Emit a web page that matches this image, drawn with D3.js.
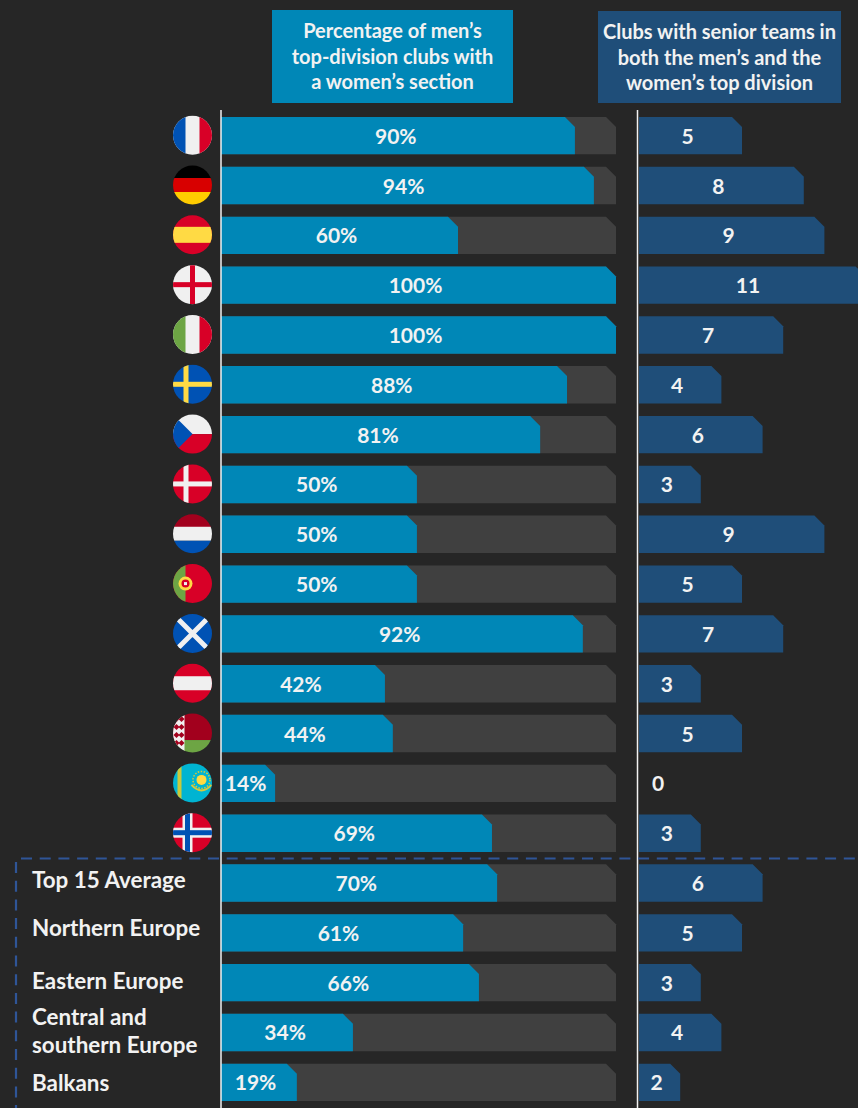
<!DOCTYPE html>
<html>
<head>
<meta charset="utf-8">
<script src="https://cdn.jsdelivr.net/npm/d3@7"></script>
<style>
  html, body { margin: 0; padding: 0; background: #262626; overflow: hidden; }
  text { font-family: Lato, sans-serif; font-weight: 700; fill: #f2f2f2; }
</style>
</head>
<body>
<div id="chart"></div>
<script>
// rows top to bottom
const rows = ["France", "Germany", "Spain", "England", "Italy", "Sweden", "Czech Republic", "Denmark",
  "Netherlands", "Portugal", "Scotland", "Austria", "Belarus", "Kazakhstan", "Norway",
  "Top 15 Average", "Northern Europe", "Eastern Europe", "Central and southern Europe", "Balkans"];
const pct = [90, 94, 60, 100, 100, 88, 81, 50, 50, 50, 92, 42, 44, 14, 69, 70, 61, 66, 34, 19];
// bar lengths, they differ a little from the printed labels
const pctBar = [89.6, 94.4, 60, 100, 100, 87.6, 80.8, 49.6, 49.6, 49.6, 91.6, 41.5, 43.5, 13.7, 68.6, 69.9, 61.3, 65.3, 33.4, 19.2];
const clubs = [5, 8, 9, 11, 7, 4, 6, 3, 9, 5, 7, 3, 5, 0, 3, 6, 5, 3, 4, 2];
const groupRows = rows.slice(15);
const headLeft = ["Percentage of men’s", "top-division clubs with", "a women’s section"];
const headRight = ["Clubs with senior teams in", "both the men’s and the", "women’s top division"];

const width = 858;
const height = 1108;
const blue = "#0087b7";
const navy = "#1f4e79";
const track = "#404040";

const svg = d3.select("#chart").append("svg")
  .attr("width", width)
  .attr("height", height)
  .style("display", "block");

const defs = svg.append("defs");

const y = d3.scaleBand().domain(rows).range([117, 1101]).paddingInner(0.25);
const xPct = d3.scaleLinear().domain([0, 100]).range([221, 616]);
const xClubs = d3.scaleLinear().domain([0, 11]).range([639, 865.6]);

// bar with the top right corner cut off
function snip(x0, x1, top, h) {
  const c = Math.min(10, x1 - x0);
  return `M${x0},${top}H${x1 - c}L${x1},${top + c}V${top + h}H${x0}Z`;
}

// header boxes
function header(x, top, w, h, fill, lines) {
  svg.append("rect").attr("x", x).attr("y", top).attr("width", w).attr("height", h).attr("fill", fill);
  svg.selectAll(null).data(lines).enter().append("text")
    .attr("x", x + w / 2)
    .attr("y", (d, i) => top + 28 + i * 25.7)
    .attr("text-anchor", "middle")
    .attr("font-size", 20)
    .text(d => d);
}
header(272, 10, 241, 93, blue, headLeft);
header(598, 11, 243, 92, navy, headRight);

// left bars
svg.selectAll(".track").data(rows).enter().append("path")
  .attr("class", "track")
  .attr("fill", track)
  .attr("d", d => snip(xPct(0), xPct(100), y(d), y.bandwidth()));

svg.selectAll(".pct").data(rows).enter().append("path")
  .attr("class", "pct")
  .attr("fill", blue)
  .attr("d", (d, i) => snip(xPct(0), xPct(pctBar[i]), y(d), y.bandwidth()));

svg.selectAll(".pctLabel").data(rows).enter().append("text")
  .attr("class", "pctLabel")
  .attr("x", (d, i) => (xPct(0) + xPct(pct[i])) / 2 - 3)
  .attr("y", d => y(d) + y.bandwidth() / 2 + 8)
  .attr("text-anchor", "middle")
  .attr("font-size", 21)
  .text((d, i) => pct[i] + "%");

// right bars
svg.selectAll(".club").data(rows.filter((d, i) => clubs[i] > 0)).enter().append("path")
  .attr("class", "club")
  .attr("fill", navy)
  .attr("d", d => snip(xClubs(0), xClubs(clubs[rows.indexOf(d)]), y(d), y.bandwidth()));

svg.selectAll(".clubLabel").data(rows).enter().append("text")
  .attr("class", "clubLabel")
  .attr("x", (d, i) => clubs[i] > 0 ? Math.min((xClubs(0) + xClubs(clubs[i])) / 2 - 3, 748) : 658)
  .attr("y", d => y(d) + y.bandwidth() / 2 + 8)
  .attr("text-anchor", "middle")
  .attr("font-size", 21)
  .text((d, i) => clubs[i]);

// axis lines
[221, 637.5].forEach(x => {
  svg.append("line").attr("x1", x).attr("x2", x).attr("y1", 110).attr("y2", height)
    .attr("stroke", "#f2f2f2").attr("stroke-width", 1.5);
});

// dashed frame round the group rows
svg.append("line")
  .attr("x1", 21).attr("x2", width).attr("y1", 858.5).attr("y2", 858.5)
  .attr("stroke", "#2f5597").attr("stroke-width", 2.2).attr("stroke-dasharray", "11 7.7");
svg.append("line")
  .attr("x1", 16).attr("x2", 16).attr("y1", 862).attr("y2", height)
  .attr("stroke", "#2f5597").attr("stroke-width", 2.2).attr("stroke-dasharray", "11 7.7");

// group labels
const groupLabelY = {
  "Top 15 Average": [888],
  "Northern Europe": [936],
  "Eastern Europe": [989],
  "Central and southern Europe": [1025, 1053],
  "Balkans": [1091]
};
const groupLines = {
  "Top 15 Average": ["Top 15 Average"],
  "Northern Europe": ["Northern Europe"],
  "Eastern Europe": ["Eastern Europe"],
  "Central and southern Europe": ["Central and", "southern Europe"],
  "Balkans": ["Balkans"]
};
groupRows.forEach(name => {
  groupLines[name].forEach((line, i) => {
    svg.append("text").attr("x", 32).attr("y", groupLabelY[name][i])
      .attr("font-size", 22.4).text(line);
  });
});

// flags, drawn on a 40x40 box round the circle centre
const white = "#f0f0f0";
const red = "#d80027";
const flagBlue = "#0052b4";
const green = "#6da544";
const yellow = "#ffda44";

function r(g, x, yy, w, h, fill) {
  g.append("rect").attr("x", x).attr("y", yy).attr("width", w).attr("height", h).attr("fill", fill);
}
function poly(g, pts, fill) {
  g.append("polygon").attr("points", pts).attr("fill", fill);
}

const flags = {
  "France": g => { r(g, 0, 0, 40, 40, white); r(g, 0, 0, 13, 40, flagBlue); r(g, 27, 0, 13, 40, red); },
  "Germany": g => { r(g, 0, 0, 40, 14, "#000"); r(g, 0, 13, 40, 14, "#d80000"); r(g, 0, 27, 40, 13, "#ffcc00"); },
  "Spain": g => { r(g, 0, 0, 40, 40, red); r(g, 0, 12, 40, 16, yellow); },
  "England": g => { r(g, 0, 0, 40, 40, white); r(g, 17.5, 0, 5, 40, red); r(g, 0, 17.5, 40, 5, red); },
  "Italy": g => { r(g, 0, 0, 40, 40, white); r(g, 0, 0, 13, 40, green); r(g, 27, 0, 13, 40, red); },
  "Sweden": g => { r(g, 0, 0, 40, 40, flagBlue); r(g, 11, 0, 5, 40, yellow); r(g, 0, 17.5, 40, 5, yellow); },
  "Czech Republic": g => {
    r(g, 0, 0, 40, 20, white); r(g, 0, 20, 40, 20, red);
    poly(g, "0,0 20,20 0,40", flagBlue);
  },
  "Denmark": g => { r(g, 0, 0, 40, 40, red); r(g, 11, 0, 5, 40, white); r(g, 0, 17.5, 40, 5, white); },
  "Netherlands": g => { r(g, 0, 0, 40, 14, "#a2001d"); r(g, 0, 13, 40, 14, white); r(g, 0, 27, 40, 13, flagBlue); },
  "Portugal": g => {
    r(g, 0, 0, 40, 40, red); r(g, 0, 0, 13, 40, green);
    g.append("circle").attr("cx", 13).attr("cy", 20).attr("r", 7).attr("fill", yellow);
    g.append("circle").attr("cx", 13).attr("cy", 20).attr("r", 4).attr("fill", red);
    r(g, 11.5, 18.5, 3, 3, white);
  },
  "Scotland": g => {
    r(g, 0, 0, 40, 40, flagBlue);
    g.append("path").attr("d", "M4,4L36,36M36,4L4,36").attr("stroke", white).attr("stroke-width", 5);
  },
  "Austria": g => { r(g, 0, 0, 40, 40, red); r(g, 0, 13, 40, 14, white); },
  "Belarus": g => {
    r(g, 0, 0, 40, 27, "#a2001d"); r(g, 0, 27, 40, 13, green); r(g, 0, 0, 12, 40, white);
    [6, 14, 22, 30].forEach(c => {
      poly(g, `4,${c - 3} 7,${c} 4,${c + 3} 1,${c}`, "#a2001d");
      poly(g, `9,${c - 3} 12,${c} 9,${c + 3} 6,${c}`, "#a2001d");
    });
  },
  "Kazakhstan": g => {
    r(g, 0, 0, 40, 40, "#00b4d2");
    r(g, 5, 0, 4, 40, "#c9c93a");
    g.append("circle").attr("cx", 29).attr("cy", 17).attr("r", 5).attr("fill", "#ffda44");
    g.append("path").attr("d", "M19,22Q29,33 39,22").attr("fill", "none").attr("stroke", "#d9c93a").attr("stroke-width", 2);
    g.append("circle").attr("cx", 29).attr("cy", 17).attr("r", 8.5).attr("fill", "none")
      .attr("stroke", "#d9c93a").attr("stroke-width", 1.5).attr("stroke-dasharray", "1.5 1.5");
  },
  "Norway": g => {
    r(g, 0, 0, 40, 40, red);
    r(g, 10, 0, 10, 40, white); r(g, 0, 15, 40, 10, white);
    r(g, 12.5, 0, 5, 40, flagBlue); r(g, 0, 17.5, 40, 5, flagBlue);
  }
};

rows.slice(0, 15).forEach((name, i) => {
  const cy = y(name) + y.bandwidth() / 2 - 0.5;
  const clipId = "clip" + i;
  defs.append("clipPath").attr("id", clipId)
    .append("circle").attr("cx", 20).attr("cy", 20).attr("r", 19.5);
  const g = svg.append("g")
    .attr("transform", `translate(172.5,${cy - 20})`)
    .attr("clip-path", `url(#${clipId})`);
  flags[name](g);
});
</script>
</body>
</html>
